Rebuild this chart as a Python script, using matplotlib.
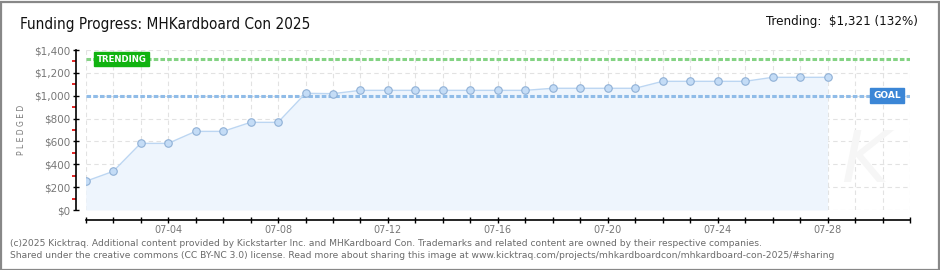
import matplotlib
matplotlib.use("Agg")
import matplotlib.pyplot as plt
import matplotlib.dates as mdates
import matplotlib.ticker as mticker
import pandas as pd
from matplotlib.patches import Rectangle

# ---------------- data ----------------
dates = ["2025-07-01", "2025-07-02", "2025-07-03", "2025-07-04", "2025-07-05",
         "2025-07-06", "2025-07-07", "2025-07-08", "2025-07-09", "2025-07-10",
         "2025-07-11", "2025-07-12", "2025-07-13", "2025-07-14", "2025-07-15",
         "2025-07-16", "2025-07-17", "2025-07-18", "2025-07-19", "2025-07-20",
         "2025-07-21", "2025-07-22", "2025-07-23", "2025-07-24", "2025-07-25",
         "2025-07-26", "2025-07-27", "2025-07-28"]
pledged = [251, 338, 583, 583, 688, 688, 767, 767, 1021, 1018,
           1047, 1047, 1047, 1047, 1047, 1047, 1047, 1065, 1065, 1065,
           1065, 1126, 1126, 1126, 1126, 1161, 1161, 1161]
goal = 1000
trending = 1321
x_start = "2025-07-01"
x_end = "2025-07-31"
y_ticks = [0, 200, 400, 600, 800, 1000, 1200, 1400]
y_tick_labels = ["$0", "$200", "$400", "$600", "$800", "$1,000", "$1,200", "$1,400"]
label_days = [4, 8, 12, 16, 20, 24, 28]

title = "Funding Progress: MHKardboard Con 2025"
trend_text = "Trending:  $1,321 (132%)"
footer1 = ("(c)2025 Kicktraq. Additional content provided by Kickstarter Inc. and MHKardboard Con. "
           "Trademarks and related content are owned by their respective companies.")
footer2 = ("Shared under the creative commons (CC BY-NC 3.0) license. Read more about sharing this image at "
           "www.kicktraq.com/projects/mhkardboardcon/mhkardboard-con-2025/#sharing")

# ---------------- figure ----------------
W, H = 940, 270
fig = plt.figure(figsize=(W / 100, H / 100), dpi=100)
fig.patch.set_facecolor("white")

L, R, T, B = 85.7, 910, 50, 210
ax = fig.add_axes([L / W, 1 - B / H, (R - L) / W, (B - T) / H])
ax.set_facecolor("none")

x = pd.to_datetime(dates)
xs, xe = pd.Timestamp(x_start), pd.Timestamp(x_end)

ax.fill_between(x, 0, pledged, color="#eef5fd", zorder=1, linewidth=0)
ax.plot(x, pledged, color="#bcd6f2", lw=1.0, zorder=3,
        marker="o", markersize=5.4, markerfacecolor="#c4dcf6",
        markeredgecolor="#8fb0d6", markeredgewidth=0.8)

ax.axhline(trending, color="#84d384", lw=2.2, dashes=(1.5, 0.7), zorder=2)
ax.axhline(goal, color="#90bce8", lw=2.2, dashes=(1.5, 0.7), zorder=2)

ax.annotate("TRENDING", xy=(xs, trending), xytext=(8 * 0.72 + 2, 0),
            textcoords="offset points", ha="left", va="center",
            color="white", fontsize=6.2, fontweight="bold", family="DejaVu Sans",
            bbox=dict(boxstyle="square,pad=0.3", fc="#11b311", ec="#11b311"), zorder=5)
ax.annotate("GOAL", xy=(xe, goal), xytext=(-6 * 0.72 - 2, 0),
            textcoords="offset points", ha="right", va="center",
            color="white", fontsize=6.5, fontweight="bold", family="DejaVu Sans",
            bbox=dict(boxstyle="square,pad=0.35", fc="#3b86d6", ec="#3b86d6"), zorder=5)

ax.set_xlim(xs, xe)
ax.set_ylim(0, 1400)

ax.xaxis.set_major_locator(mdates.DayLocator(bymonthday=label_days))
ax.xaxis.set_major_formatter(mdates.DateFormatter("%m-%d"))
ax.xaxis.set_minor_locator(mdates.DayLocator())
ax.set_yticks(y_ticks)
ax.set_yticklabels(y_tick_labels)
ax.yaxis.set_minor_locator(mticker.MultipleLocator(100))

ax.grid(True, which="both", axis="x", color="#e2e2e2", ls=(0, (4, 3)), lw=0.8, zorder=0)
ax.grid(True, which="major", axis="y", color="#e2e2e2", ls=(0, (4, 3)), lw=0.8, zorder=0)
ax.set_axisbelow(True)

for s in ["top", "right"]:
    ax.spines[s].set_visible(False)
ax.spines["left"].set_position(("outward", 7))
ax.spines["bottom"].set_position(("outward", 7.4))
ax.spines["left"].set_linewidth(1.2)
ax.spines["bottom"].set_linewidth(1.2)

ax.tick_params(axis="y", which="major", direction="inout", length=4, width=1.0,
               colors="black", labelcolor="#777777", labelsize=7.5, pad=2)
ax.tick_params(axis="y", which="minor", direction="out", length=3.2, width=1.2,
               colors="#dd0000")
ax.tick_params(axis="x", which="both", direction="inout", length=4, width=1.0,
               colors="black", labelcolor="#777777", labelsize=7, pad=1.5)

fig.text(22 / W, 1 - 130 / H, "P L E D G E D", rotation=90, ha="center", va="center",
         fontsize=5.5, color="#777777")

# watermark
fig.text(865 / W, 1 - 162 / H, "K", fontsize=52, style="italic", color="#f6f6f6",
         ha="center", va="center", zorder=0)

fig.text(20 / W, 1 - 24 / H, title, ha="left", va="center", fontsize=11,
         family="DejaVu Sans", fontstretch="condensed", color="#111111")
fig.text(918 / W, 1 - 22 / H, trend_text, ha="right", va="center", fontsize=9.5,
         family="DejaVu Sans", fontstretch="condensed", color="#111111")

fig.text(10 / W, 1 - 243 / H, footer1, ha="left", va="center", fontsize=6.6, color="#6a6a6a")
fig.text(10 / W, 1 - 255.5 / H, footer2, ha="left", va="center", fontsize=6.6, color="#6a6a6a")

fig.add_artist(Rectangle((0.5 / W, 0.5 / H), 1 - 2 / W, 1 - 2 / H, transform=fig.transFigure,
                         fill=False, ec="#888888", lw=1.6))

fig.savefig("out.png", dpi=100)
